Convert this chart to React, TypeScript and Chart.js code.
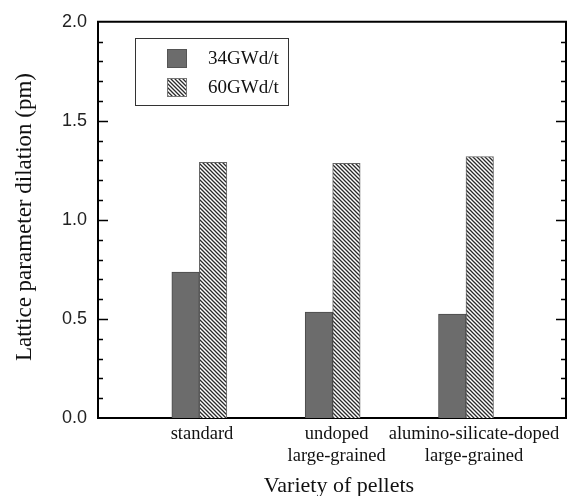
import React, { useEffect, useRef } from "react";
import { Chart, registerables } from "chart.js";

Chart.register(...registerables);

// ---- data ----
const categories: string[][] = [
  ["standard"],
  ["undoped", "large-grained"],
  ["alumino-silicate-doped", "large-grained"],
];
const seriesNames = ["34GWd/t", "60GWd/t"];
const values34 = [0.737, 0.535, 0.524];
const values60 = [1.29, 1.285, 1.32];
const yTickValues = [0, 0.5, 1.0, 1.5, 2.0];
const yTitle = "Lattice parameter dilation (pm)";
const xTitle = "Variety of pellets";

// ---- layout constants ----
const W = 573;
const H = 496;
const groupPositions = [1, 2, 3];
const labelPositions = [1.02, 2.03, 3.06];
const SERIF = "'Liberation Serif', 'Times New Roman', serif";
const SANS = "'Liberation Sans', Arial, sans-serif";

function makeHatch(): CanvasPattern | string {
  const c = document.createElement("canvas");
  c.width = 4;
  c.height = 4;
  const g = c.getContext("2d");
  if (!g) return "#888";
  g.fillStyle = "#ffffff";
  g.fillRect(0, 0, 4, 4);
  g.strokeStyle = "#2a2a2a";
  g.lineWidth = 1.3;
  g.beginPath();
  g.moveTo(-1, -1);
  g.lineTo(5, 5);
  g.moveTo(-1, 3);
  g.lineTo(1, 5);
  g.moveTo(3, -1);
  g.lineTo(5, 1);
  g.stroke();
  const p = g.createPattern(c, "repeat");
  return p || "#888";
}

export default function App() {
  const ref = useRef<HTMLCanvasElement | null>(null);

  useEffect(() => {
    document.body.style.margin = "0";
    const canvas = ref.current;
    if (!canvas) return;
    const hatch = makeHatch();
    const darkFill = "#6c6c6c";

    const framePlugin = {
      id: "frame",
      afterDraw(chart: any) {
        const ctx = chart.ctx;
        const { left, right, top, bottom } = chart.chartArea;
        const y = chart.scales.y;
        ctx.save();
        ctx.strokeStyle = "#000";
        ctx.lineWidth = 2;
        ctx.beginPath();
        ctx.moveTo(left - 1, top);
        ctx.lineTo(right, top);
        ctx.lineTo(right, bottom + 1);
        ctx.stroke();
        // inward ticks
        ctx.lineWidth = 1.5;
        for (let i = 1; i < 20; i++) {
          const v = i / 10;
          const py = Math.round(y.getPixelForValue(v)) + 0.5;
          const len = i % 5 === 0 ? 10 : 5;
          ctx.beginPath();
          ctx.moveTo(left, py);
          ctx.lineTo(left + len, py);
          ctx.moveTo(right, py);
          ctx.lineTo(right - len, py);
          ctx.stroke();
        }
        // legend
        ctx.lineWidth = 1;
        ctx.strokeStyle = "#333";
        ctx.strokeRect(135.5, 38.5, 153, 67);
        ctx.fillStyle = darkFill;
        ctx.fillRect(167, 49, 20, 19);
        ctx.strokeStyle = "#555";
        ctx.strokeRect(167.5, 49.5, 19, 18);
        ctx.fillStyle = hatch as any;
        ctx.fillRect(167, 78, 20, 19);
        ctx.strokeStyle = "#777";
        ctx.strokeRect(167.5, 78.5, 19, 18);
        ctx.fillStyle = "#111";
        ctx.font = `19px ${SERIF}`;
        ctx.textAlign = "left";
        ctx.textBaseline = "middle";
        ctx.fillText(seriesNames[0], 208, 59);
        ctx.fillText(seriesNames[1], 208, 88);
        // axis titles
        ctx.font = `22px ${SERIF}`;
        ctx.textAlign = "center";
        ctx.textBaseline = "middle";
        ctx.fillText(xTitle, 339, 486);
        ctx.save();
        ctx.translate(25, 217);
        ctx.rotate(-Math.PI / 2);
        ctx.font = `23px ${SERIF}`;
        ctx.fillText(yTitle, 0, 0);
        ctx.restore();
        ctx.restore();
      },
    };

    const chart = new Chart(canvas, {
      type: "bar",
      data: {
        datasets: [
          {
            label: seriesNames[0],
            data: values34.map((v, i) => ({ x: groupPositions[i], y: v })),
            backgroundColor: darkFill,
            borderColor: "#4a4a4a",
            borderWidth: 1,
            barThickness: 27.5,
          },
          {
            label: seriesNames[1],
            data: values60.map((v, i) => ({ x: groupPositions[i], y: v })),
            backgroundColor: hatch as any,
            borderColor: "#666",
            borderWidth: 1,
            barThickness: 27.5,
          },
        ],
      },
      options: {
        responsive: false,
        animation: false,
        layout: { padding: { left: 0, top: 21, right: 7, bottom: 0 } },
        plugins: {
          legend: { display: false },
          tooltip: { enabled: false },
        },
        scales: {
          x: {
            type: "linear",
            min: 0.24,
            max: 3.75,
            offset: false,
            grid: { display: false, drawTicks: false, offset: false },
            border: { display: true, color: "#000", width: 2 },
            afterBuildTicks: (axis: any) => {
              axis.ticks = labelPositions.map((v) => ({ value: v }));
            },
            afterFit: (axis: any) => {
              axis.height = 78;
            },
            ticks: {
              autoSkip: false,
              maxRotation: 0,
              padding: 5,
              color: "#111",
              font: { family: SERIF, size: 18.5, lineHeight: 1.2 },
              callback: (_v: any, i: number) => categories[i],
            },
          },
          y: {
            min: 0,
            max: 2,
            grid: { display: false, drawTicks: false },
            border: { display: true, color: "#000", width: 2 },
            afterBuildTicks: (axis: any) => {
              axis.ticks = yTickValues.map((v) => ({ value: v }));
            },
            afterFit: (axis: any) => {
              axis.width = 98;
            },
            ticks: {
              padding: 11,
              color: "#222",
              font: { family: SANS, size: 18 },
              callback: (v: any) => Number(v).toFixed(1),
            },
          },
        },
      },
      plugins: [framePlugin],
    } as any);

    return () => chart.destroy();
  }, []);

  return (
    <div style={{ width: W, height: H, background: "#fff" }}>
      <canvas ref={ref} width={W} height={H} style={{ display: "block" }} />
    </div>
  );
}
